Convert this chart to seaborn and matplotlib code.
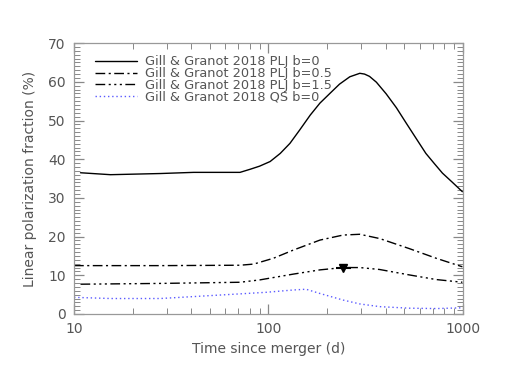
import numpy as np
import pandas as pd
import matplotlib
matplotlib.use('Agg')
import matplotlib.pyplot as plt
import seaborn as sns
from matplotlib.ticker import MultipleLocator, LogLocator, NullFormatter, FixedLocator

sns.set_style('ticks')
plt.rcParams['font.family'] = ['DejaVu Sans']

# curves (time in days, polarization in %)
t_b0 = [10.8, 15.4, 27.8, 41.2, 71.4, 80.5, 90, 102, 115, 129, 145, 164, 184, 207,
        232, 262, 295, 312, 331, 359, 403, 455, 510, 576, 645, 715, 785, 880, 994]
p_b0 = [36.5, 36.0, 36.3, 36.6, 36.6, 37.4, 38.2, 39.4, 41.5, 44.1, 47.6, 51.4, 54.5, 57.0,
        59.4, 61.3, 62.2, 62.0, 61.4, 59.9, 56.9, 53.3, 49.4, 45.3, 41.5, 38.8, 36.4, 34.1, 31.6]

t_b05 = [10.0, 27.8, 71.4, 84, 106, 134, 184, 242, 295, 373, 530, 729, 994]
p_b05 = [12.5, 12.5, 12.6, 12.9, 14.4, 16.5, 19.1, 20.4, 20.6, 19.5, 16.9, 14.4, 12.2]

t_b15 = [10.8, 27.8, 71.4, 90, 134, 184, 242, 295, 373, 530, 729, 994]
p_b15 = [7.7, 7.9, 8.2, 8.8, 10.3, 11.4, 12.0, 12.0, 11.5, 10.1, 8.9, 8.2]

t_qs = [10.0, 15.4, 27.8, 41.2, 71.4, 97, 134, 156, 184, 242, 295, 373, 530, 729, 994]
p_qs = [4.3, 4.0, 4.0, 4.5, 5.2, 5.6, 6.2, 6.4, 5.3, 3.6, 2.6, 1.9, 1.5, 1.4, 1.6]

# upper limit point
lim_t = [243]
lim_p = [11.9]
lim_terr = [[21], [24]]

labels = ['Gill & Granot 2018 PLJ b=0', 'Gill & Granot 2018 PLJ b=0.5',
          'Gill & Granot 2018 PLJ b=1.5', 'Gill & Granot 2018 QS b=0']
dash_b05 = [7, 2.5, 1.5, 2.5]
dash_b15 = [7, 2.5, 1.5, 2.5, 1.5, 2.5, 1.5, 2.5]
dash_qs = [1, 2]

fig = plt.figure(figsize=(5.07, 3.92), dpi=100)
ax = fig.add_axes([0.146, 0.199, 0.767, 0.691])

sns.lineplot(x=t_b0, y=p_b0, ax=ax, color='black', lw=1.0, label=labels[0])
sns.lineplot(x=t_b05, y=p_b05, ax=ax, color='black', lw=1.0, label=labels[1]).lines[-1].set_dashes(dash_b05)
sns.lineplot(x=t_b15, y=p_b15, ax=ax, color='black', lw=1.0, label=labels[2]).lines[-1].set_dashes(dash_b15)
sns.lineplot(x=t_qs, y=p_qs, ax=ax, color='#5a5aff', lw=1.0, label=labels[3]).lines[-1].set_dashes(dash_qs)

ax.errorbar(lim_t, lim_p, xerr=lim_terr, fmt='v', color='black', ms=6,
            elinewidth=1.5, capsize=0)

ax.set_xscale('log')
ax.set_xlim(10, 1000)
ax.set_ylim(0, 70)
ax.xaxis.set_major_locator(FixedLocator([10, 100, 1000]))
ax.set_xticklabels(['10', '100', '1000'])
ax.xaxis.set_minor_locator(LogLocator(base=10, subs=np.arange(2, 10)))
ax.xaxis.set_minor_formatter(NullFormatter())
ax.yaxis.set_major_locator(MultipleLocator(10))
ax.yaxis.set_minor_locator(MultipleLocator(1))

grey = '#555555'
for s in ax.spines.values():
    s.set_color('#999999')
    s.set_linewidth(0.9)
ax.tick_params(which='both', direction='in', bottom=True, left=True, top=True, right=True,
               color='#888888', labelcolor=grey, labelsize=10)
ax.tick_params(which='major', length=7, width=0.9, pad=6)
ax.tick_params(which='minor', length=4, width=0.7)

ax.set_xlabel('Time since merger (d)', color=grey, fontsize=10)
ax.set_ylabel('Linear polarization fraction (%)', color=grey, fontsize=10, labelpad=8)

leg = ax.legend(loc='upper left', frameon=False, fontsize=9.3, handlelength=3.3,
                handletextpad=0.6, labelspacing=-0.08, bbox_to_anchor=(0.04, 0.975),
                borderaxespad=0)
for txt in leg.get_texts():
    txt.set_color(grey)
leg.legend_handles[1].set_dashes(dash_b05)
leg.legend_handles[2].set_dashes(dash_b15)
leg.legend_handles[3].set_dashes(dash_qs)

fig.savefig('out.png', dpi=100)
